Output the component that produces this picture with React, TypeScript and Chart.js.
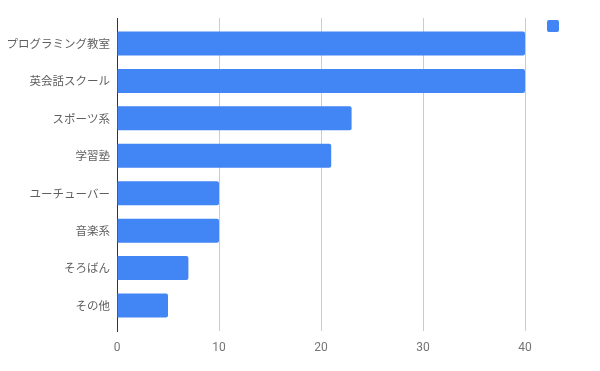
import React, { useEffect, useRef } from "react";
import { Chart, registerables } from "chart.js";

Chart.register(...registerables);

const categories = ["プログラミング教室", "英会話スクール", "スポーツ系", "学習塾", "ユーチューバー", "音楽系", "そろばん", "その他"];
const values = [40, 40, 23, 21, 10, 10, 7, 5];
const xTicks = [0, 10, 20, 30, 40];
const barColor = "#4285f4";

const legendSquare = {
  id: "legendSquare",
  afterDraw(chart: any) {
    const { ctx, chartArea } = chart;
    const x = chartArea.right + 22;
    const y = chartArea.top + 2;
    ctx.save();
    ctx.fillStyle = barColor;
    ctx.beginPath();
    if (ctx.roundRect) ctx.roundRect(x, y, 12, 12, 2);
    else ctx.rect(x, y, 12, 12);
    ctx.fill();
    ctx.restore();
  },
};

export default function App() {
  const ref = useRef<HTMLCanvasElement>(null);
  useEffect(() => {
    document.body.style.margin = "0";
    const points = values.map((v, i) => ({ x: v, y: i }));
    const chart = new Chart(ref.current!, {
      type: "bar",
      data: {
        datasets: [
          {
            data: points as any,
            backgroundColor: barColor,
            borderWidth: 0,
            borderRadius: 2,
            borderSkipped: "start",
            barPercentage: 0.64,
            categoryPercentage: 1,
          },
        ],
      },
      options: {
        indexAxis: "y",
        animation: false,
        responsive: false,
        layout: { padding: { top: 18, right: 75, left: 0, bottom: 0 } },
        plugins: { legend: { display: false }, tooltip: { enabled: false } },
        scales: {
          x: {
            type: "linear",
            min: 0,
            max: 40,
            afterBuildTicks: (s: any) => {
              s.ticks = xTicks.map((v) => ({ value: v }));
            },
            afterFit: (s: any) => {
              s.height = 40;
            },
            grid: { color: "#cccccc", drawTicks: false, lineWidth: 1 },
            border: { display: false },
            ticks: {
              color: "#757575",
              padding: 10,
              font: { family: "Roboto", size: 12 },
            },
          },
          y: {
            type: "linear",
            reverse: true,
            offset: false,
            min: -0.68,
            max: categories.length - 1 + 0.68,
            afterBuildTicks: (s: any) => {
              s.ticks = categories.map((_, i) => ({ value: i }));
            },
            afterFit: (s: any) => {
              s.width = 117;
            },
            grid: { display: false, drawTicks: false, offset: false },
            border: { display: true, color: "#333333", width: 1 },
            ticks: {
              color: "#5f5f5f",
              padding: 7,
              autoSkip: false,
              callback: (v: any) => categories[Math.round(Number(v))] ?? "",
              font: { family: "'Noto Sans CJK JP'", size: 11.5 },
            },
          },
        },
      },
      plugins: [legendSquare],
    });
    return () => chart.destroy();
  }, []);
  return (
    <div style={{ width: 600, height: 371 }}>
      <canvas ref={ref} width={600} height={371} />
    </div>
  );
}
